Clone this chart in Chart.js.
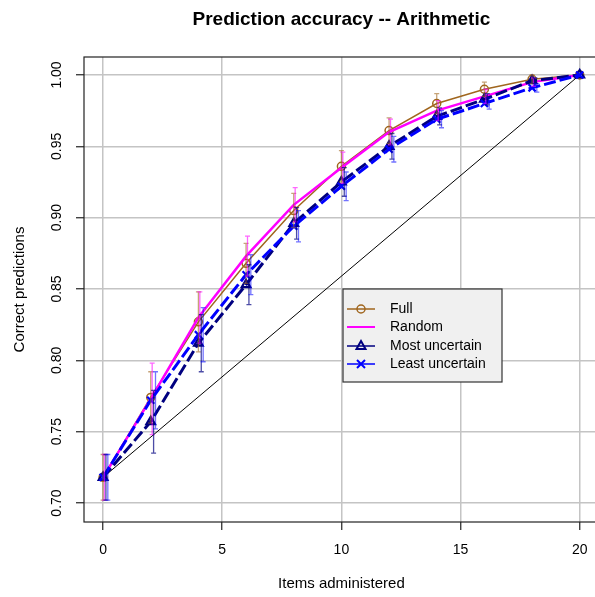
<!DOCTYPE html>
<html lang="en">
<head>
    <meta charset="UTF-8">
    <title>Prediction accuracy -- Arithmetic</title>
    <style>
        html, body {
            margin: 0;
            padding: 0;
            background: #fff;
            overflow: hidden;
        }
        .wrap {
            width: 606px;
            height: 597px;
        }
    </style>
    <script src="https://cdn.jsdelivr.net/npm/chart.js"></script>
</head>
<body>
    <div class="wrap"><canvas id="accChart" width="606" height="597"></canvas></div>

    <script>
        const items = [0, 2, 4, 6, 8, 10, 12, 14, 16, 18, 20];
        const fullAcc   = [0.718, 0.774, 0.827, 0.868, 0.905, 0.936, 0.961, 0.980, 0.990, 0.997, 1.000];
        const randomAcc = [0.718, 0.773, 0.830, 0.873, 0.909, 0.935, 0.960, 0.975, 0.985, 0.995, 1.000];
        const mostAcc   = [0.718, 0.757, 0.812, 0.853, 0.896, 0.925, 0.950, 0.971, 0.983, 0.996, 1.000];
        const leastAcc  = [0.718, 0.772, 0.818, 0.860, 0.894, 0.922, 0.948, 0.969, 0.980, 0.991, 1.000];

        const fullErr   = [0.016, 0.018, 0.021, 0.014, 0.012, 0.011, 0.009, 0.007, 0.005, 0.003, 0];
        const randomErr = [0.016, 0.025, 0.018, 0.014, 0.012, 0.011, 0.009, 0.007, 0.005, 0.003, 0];
        const mostErr   = [0.016, 0.022, 0.020, 0.014, 0.011, 0.010, 0.009, 0.006, 0.004, 0.002, 0];
        const leastErr  = [0.016, 0.020, 0.019, 0.014, 0.011, 0.010, 0.009, 0.006, 0.004, 0.003, 0];

        const seriesNames = ['Full', 'Random', 'Most uncertain', 'Least uncertain'];
        const xTicks = [0, 5, 10, 15, 20];
        const yTicks = [0.70, 0.75, 0.80, 0.85, 0.90, 0.95, 1.00];
        const chartTitle = 'Prediction accuracy -- Arithmetic';

        const FONT = '"Liberation Sans", Arial, Helvetica, sans-serif';
        const BROWN = '#A0661E';
        const MAGENTA = '#FF00FF';
        const NAVY = '#000080';
        const BLUE = '#0000FF';

        const toPoints = ys => items.map((x, i) => ({ x: x, y: ys[i] }));

        // error bars, drawn with the chart's own scales
        const errorSets = [
            { vals: fullAcc, err: fullErr, shift: 0, color: 'rgba(160,102,30,0.6)' },
            { vals: randomAcc, err: randomErr, shift: 0.06, color: 'rgba(255,0,255,0.6)' },
            { vals: mostAcc, err: mostErr, shift: 0.12, color: 'rgba(0,0,128,0.7)' },
            { vals: leastAcc, err: leastErr, shift: 0.2, color: 'rgba(0,0,255,0.55)' }
        ];

        const errorBars = {
            id: 'errorBars',
            afterDatasetsDraw(chart) {
                const ctx = chart.ctx;
                const xs = chart.scales.x, ys = chart.scales.y;
                ctx.save();
                ctx.lineWidth = 1.3;
                errorSets.forEach(s => {
                    ctx.strokeStyle = s.color;
                    s.vals.forEach((v, i) => {
                        if (!s.err[i]) return;
                        const px = xs.getPixelForValue(items[i] + s.shift);
                        const y1 = ys.getPixelForValue(v - s.err[i]);
                        const y2 = ys.getPixelForValue(v + s.err[i]);
                        ctx.beginPath();
                        ctx.moveTo(px, y1); ctx.lineTo(px, y2);
                        ctx.moveTo(px - 2.5, y1); ctx.lineTo(px + 2.5, y1);
                        ctx.moveTo(px - 2.5, y2); ctx.lineTo(px + 2.5, y2);
                        ctx.stroke();
                    });
                });
                ctx.restore();
            }
        };

        function drawMarker(ctx, kind, x, y, color) {
            ctx.save();
            ctx.strokeStyle = color;
            ctx.beginPath();
            if (kind === 'circle') {
                ctx.lineWidth = 1.5;
                ctx.arc(x, y, 4, 0, Math.PI * 2);
            } else if (kind === 'triangle') {
                ctx.lineWidth = 2;
                ctx.moveTo(x, y - 5);
                ctx.lineTo(x + 4.5, y + 3);
                ctx.lineTo(x - 4.5, y + 3);
                ctx.closePath();
            } else if (kind === 'cross') {
                ctx.lineWidth = 2;
                ctx.moveTo(x - 4, y - 4); ctx.lineTo(x + 4, y + 4);
                ctx.moveTo(x - 4, y + 4); ctx.lineTo(x + 4, y - 4);
            }
            ctx.stroke();
            ctx.restore();
        }

        // title over the plot region, frame, y tick labels (rotated like base R) and the legend box
        const decorations = {
            id: 'decorations',
            afterDraw(chart) {
                const ctx = chart.ctx;
                const area = chart.chartArea;
                const ys = chart.scales.y;
                ctx.save();

                ctx.strokeStyle = '#222';
                ctx.lineWidth = 1.2;
                ctx.strokeRect(area.left, area.top, area.right - area.left, area.bottom - area.top);

                ctx.fillStyle = '#000';
                ctx.textAlign = 'center';
                ctx.textBaseline = 'middle';
                ctx.font = 'bold 19px ' + FONT;
                ctx.fillText(chartTitle, (area.left + area.right) / 2, 20);

                ctx.font = '14px ' + FONT;
                yTicks.forEach(v => {
                    const py = ys.getPixelForValue(v);
                    ctx.save();
                    ctx.translate(57, py);
                    ctx.rotate(-Math.PI / 2);
                    ctx.fillText(v.toFixed(2), 0, 0);
                    ctx.restore();
                });

                // legend
                const lx = 343, ly = 289, lw = 159, lh = 93;
                ctx.fillStyle = '#f0f0f0';
                ctx.fillRect(lx, ly, lw, lh);
                ctx.strokeStyle = '#333';
                ctx.lineWidth = 1.2;
                ctx.strokeRect(lx, ly, lw, lh);

                const entries = [
                    { color: BROWN, width: 1.5, marker: 'circle' },
                    { color: MAGENTA, width: 2, marker: null },
                    { color: NAVY, width: 1.5, marker: 'triangle' },
                    { color: BLUE, width: 1.5, marker: 'cross' }
                ];
                const rows = [309, 327, 346, 364];
                ctx.textAlign = 'left';
                entries.forEach((e, i) => {
                    const ry = rows[i];
                    ctx.strokeStyle = e.color;
                    ctx.lineWidth = e.width;
                    ctx.beginPath();
                    ctx.moveTo(347, ry); ctx.lineTo(375, ry);
                    ctx.stroke();
                    if (e.marker) drawMarker(ctx, e.marker, 361, ry, e.color);
                    ctx.fillStyle = '#000';
                    ctx.fillText(seriesNames[i], 390, ry);
                });
                ctx.restore();
            }
        };

        const ctx = document.getElementById('accChart').getContext('2d');
        new Chart(ctx, {
            type: 'scatter',
            data: {
                datasets: [
                    {
                        label: 'diagonal',
                        data: [{ x: items[0], y: fullAcc[0] }, { x: items[items.length - 1], y: 1 }],
                        showLine: true,
                        borderColor: '#000',
                        borderWidth: 1,
                        pointRadius: 0,
                        order: 5
                    },
                    {
                        label: seriesNames[0],
                        data: toPoints(fullAcc),
                        showLine: true,
                        borderColor: BROWN,
                        borderWidth: 1.5,
                        pointStyle: 'circle',
                        pointRadius: 4,
                        pointBorderWidth: 1.5,
                        pointBorderColor: BROWN,
                        pointBackgroundColor: 'rgba(0,0,0,0)',
                        order: 4
                    },
                    {
                        label: seriesNames[1],
                        data: toPoints(randomAcc),
                        showLine: true,
                        borderColor: MAGENTA,
                        borderWidth: 2.5,
                        pointRadius: 0,
                        order: 3
                    },
                    {
                        label: seriesNames[2],
                        data: toPoints(mostAcc),
                        showLine: true,
                        borderColor: NAVY,
                        borderWidth: 3,
                        borderDash: [12, 4],
                        pointStyle: 'triangle',
                        pointRadius: 5,
                        pointBorderWidth: 2.2,
                        pointBorderColor: NAVY,
                        pointBackgroundColor: 'rgba(0,0,0,0)',
                        order: 2
                    },
                    {
                        label: seriesNames[3],
                        data: toPoints(leastAcc),
                        showLine: true,
                        borderColor: BLUE,
                        borderWidth: 3,
                        borderDash: [12, 4],
                        pointStyle: 'crossRot',
                        pointRadius: 5,
                        pointBorderWidth: 2.2,
                        pointBorderColor: BLUE,
                        order: 1
                    }
                ]
            },
            options: {
                responsive: false,
                animation: false,
                layout: { padding: { top: 57, right: 5 } },
                plugins: {
                    legend: { display: false },
                    tooltip: { enabled: false },
                    title: { display: false }
                },
                scales: {
                    x: {
                        type: 'linear',
                        min: -0.8,
                        max: 20.8,
                        afterBuildTicks: s => { s.ticks = xTicks.map(v => ({ value: v })); },
                        afterFit: s => { s.height = 75; },
                        grid: {
                            color: '#c4c4c4',
                            lineWidth: 1.5,
                            tickColor: '#222',
                            tickLength: 8,
                            tickWidth: 1.2
                        },
                        border: { display: false },
                        ticks: {
                            color: '#000',
                            font: { family: FONT, size: 14 },
                            padding: 12,
                            maxRotation: 0
                        },
                        title: {
                            display: true,
                            text: 'Items administered',
                            color: '#000',
                            font: { family: FONT, size: 15 },
                            padding: { top: 4, bottom: 4 }
                        }
                    },
                    y: {
                        type: 'linear',
                        min: 0.6867,
                        max: 1.0126,
                        afterBuildTicks: s => { s.ticks = yTicks.map(v => ({ value: v })); },
                        afterFit: s => { s.width = 84; },
                        grid: {
                            color: '#c4c4c4',
                            lineWidth: 1.5,
                            tickColor: '#222',
                            tickLength: 8,
                            tickWidth: 1.2
                        },
                        border: { display: false },
                        ticks: { display: false },
                        title: {
                            display: true,
                            text: 'Correct predictions',
                            color: '#000',
                            font: { family: FONT, size: 15 },
                            padding: { top: 11, bottom: 4 }
                        }
                    }
                }
            },
            plugins: [errorBars, decorations]
        });
    </script>
</body>
</html>
